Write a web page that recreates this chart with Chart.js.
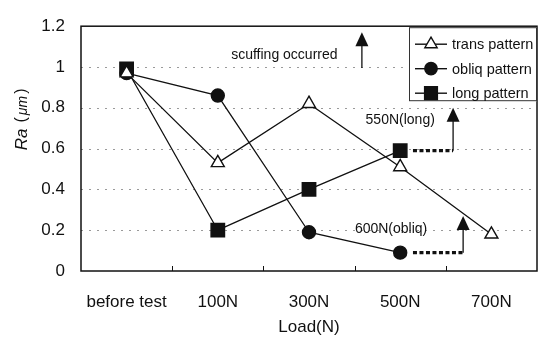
<!DOCTYPE html>
<html>
<head>
<meta charset="utf-8">
<script src="https://cdn.jsdelivr.net/npm/chart.js@4.4.1/dist/chart.umd.min.js"></script>
<style>
  html, body { margin: 0; padding: 0; background: #fff; }
  #wrap { width: 538px; height: 340px; position: relative; }
</style>
</head>
<body>
<div id="wrap"><canvas id="c"></canvas></div>
<script>
// Surface roughness Ra versus applied load for three groove patterns
const categories = ['before test', '100N', '300N', '500N', '700N'];
const transValues = [0.97, 0.53, 0.82, 0.51, 0.18];
const obliqValues = [0.97, 0.86, 0.19, 0.09, null];
const longValues  = [0.99, 0.20, 0.40, 0.59, null];
const yTickValues = [0, 0.2, 0.4, 0.6, 0.8, 1.0, 1.2];
const yTickLabels = ['0', '0.2', '0.4', '0.6', '0.8', '1', '1.2'];
const seriesNames = ['trans pattern', 'obliq pattern', 'long pattern'];

// Load-limit notes: text anchor, arrow shaft (category index / Ra), optional dotted lead
const notes = [
  { text: 'scuffing occurred', tx: 1.73, ty: 1.06, ax: 2.58, y0: 0.995, y1: 1.17, lead: null },
  { text: '550N(long)', tx: 3.0, ty: 0.738, ax: 3.58, y0: 0.59, y1: 0.80, lead: { x0: 3.14, y: 0.59 } },
  { text: '600N(obliq)', tx: 2.9, ty: 0.205, ax: 3.69, y0: 0.09, y1: 0.27, lead: { x0: 3.14, y: 0.09 } }
];

const FONT = '"Liberation Sans", Arial, sans-serif';
const INK = '#111';

const datasets = [
  { label: seriesNames[0], data: transValues, pointStyle: 'triangle', pointRadius: 7.5,
    backgroundColor: '#fff', pointBackgroundColor: '#fff' },
  { label: seriesNames[1], data: obliqValues, pointStyle: 'circle', pointRadius: 6.5,
    backgroundColor: INK, pointBackgroundColor: INK },
  { label: seriesNames[2], data: longValues, pointStyle: 'rect', pointRadius: 9.5,
    backgroundColor: INK, pointBackgroundColor: INK }
].map(d => Object.assign({
  borderColor: INK, borderWidth: 1.3, pointBorderColor: INK, pointBorderWidth: 1.4,
  tension: 0, spanGaps: false, fill: false
}, d));

const decor = {
  id: 'decor',
  beforeDatasetsDraw(chart) {
    // dotted horizontal grid
    const { ctx, chartArea: a, scales: { y } } = chart;
    ctx.save();
    ctx.strokeStyle = '#9a9a9a';
    ctx.lineWidth = 1;
    ctx.setLineDash([2, 6]);
    yTickValues.slice(1, -1).forEach(v => {
      const py = Math.round(y.getPixelForValue(v)) + 0.5;
      ctx.beginPath(); ctx.moveTo(a.left, py); ctx.lineTo(a.right, py); ctx.stroke();
    });
    ctx.restore();
  },
  afterDatasetsDraw(chart) {
    const { ctx, chartArea: a, scales: { x, y } } = chart;
    ctx.save();
    // plot frame
    ctx.strokeStyle = INK;
    ctx.lineWidth = 1.5;
    ctx.strokeRect(a.left, a.top, a.right - a.left, a.bottom - a.top);
    // inward tick marks between categories
    ctx.lineWidth = 1;
    for (let i = 0; i < categories.length - 1; i++) {
      const px = Math.round(x.getPixelForValue(i + 0.5)) + 0.5;
      ctx.beginPath(); ctx.moveTo(px, a.bottom); ctx.lineTo(px, a.bottom - 5); ctx.stroke();
    }
    // notes with arrows
    ctx.fillStyle = INK;
    ctx.textAlign = 'center';
    ctx.textBaseline = 'middle';
    notes.forEach(n => {
      ctx.font = '14px ' + FONT;
      ctx.fillText(n.text, x.getPixelForValue(n.tx), y.getPixelForValue(n.ty));
      const ax = x.getPixelForValue(n.ax);
      const yb = y.getPixelForValue(n.y0), yt = y.getPixelForValue(n.y1);
      ctx.lineWidth = 1.3;
      ctx.beginPath(); ctx.moveTo(ax, yb); ctx.lineTo(ax, yt + 12); ctx.stroke();
      ctx.beginPath();
      ctx.moveTo(ax, yt); ctx.lineTo(ax - 6.5, yt + 14); ctx.lineTo(ax + 6.5, yt + 14); ctx.closePath();
      ctx.fill();
      if (n.lead) {
        const ly = y.getPixelForValue(n.lead.y);
        ctx.lineWidth = 3.2;
        ctx.setLineDash([4, 2.5]);
        ctx.beginPath(); ctx.moveTo(x.getPixelForValue(n.lead.x0), ly); ctx.lineTo(ax, ly); ctx.stroke();
        ctx.setLineDash([]);
      }
    });
    // legend box inside the plot
    const lw = 128, lh = 74;
    const lx = a.right - lw, ly0 = a.top + 1;
    ctx.fillStyle = '#fff';
    ctx.fillRect(lx, ly0, lw, lh);
    ctx.strokeStyle = '#333';
    ctx.lineWidth = 1;
    ctx.strokeRect(lx + 0.5, ly0 + 0.5, lw - 1, lh - 1);
    ctx.textAlign = 'left';
    ctx.font = '14.5px ' + FONT;
    chart.data.datasets.forEach((ds, i) => {
      const ry = ly0 + 17 + i * 24.5;
      ctx.strokeStyle = INK;
      ctx.lineWidth = 1.4;
      ctx.beginPath(); ctx.moveTo(lx + 6, ry); ctx.lineTo(lx + 38, ry); ctx.stroke();
      ctx.fillStyle = ds.pointBackgroundColor;
      Chart.helpers.drawPoint(ctx, {
        pointStyle: ds.pointStyle, radius: ds.pointRadius * 0.95, borderWidth: 1.4
      }, lx + 22, ry);
      ctx.fillStyle = INK;
      ctx.fillText(ds.label, lx + 43, ry + 1);
    });
    // axis titles
    ctx.font = '17px ' + FONT;
    ctx.textAlign = 'center';
    ctx.fillText('Load(N)', (a.left + a.right) / 2, a.bottom + 56);
    ctx.translate(22, a.top + 94);
    ctx.rotate(-Math.PI / 2);
    ctx.textAlign = 'left';
    ctx.font = 'italic 17px ' + FONT;
    let cx = -30;
    ctx.fillText('Ra', cx, 0); cx += ctx.measureText('Ra').width + 6;
    ctx.font = '16px ' + FONT;
    ctx.fillText('(', cx, 0); cx += ctx.measureText('(').width + 2;
    ctx.font = 'italic 14px ' + FONT;
    ctx.fillText('\u03BCm', cx, 1); cx += ctx.measureText('\u03BCm').width + 2;
    ctx.font = '16px ' + FONT;
    ctx.fillText(')', cx, 0);
    ctx.restore();
  }
};

new Chart(document.getElementById('c'), {
  type: 'line',
  data: { labels: categories, datasets },
  options: {
    responsive: true,
    maintainAspectRatio: false,
    animation: false,
    layout: { autoPadding: false, padding: { top: 14, right: 1, left: 0, bottom: 0 } },
    plugins: { legend: { display: false }, tooltip: { enabled: false } },
    scales: {
      x: {
        offset: true,
        grid: { display: false, drawTicks: false },
        border: { display: false },
        ticks: { color: INK, font: { family: FONT, size: 17 }, padding: 21, maxRotation: 0 },
        afterFit(s) { s.height = 69; s.paddingLeft = 0; s.paddingRight = 0; }
      },
      y: {
        min: 0, max: 1.2,
        grid: { display: false, drawTicks: false },
        border: { display: false },
        ticks: {
          stepSize: 0.2, color: INK, font: { family: FONT, size: 17 }, padding: 16,
          callback: (v, i) => yTickLabels[i]
        },
        afterFit(s) { s.width = 81; }
      }
    }
  },
  plugins: [decor]
});
</script>
</body>
</html>
